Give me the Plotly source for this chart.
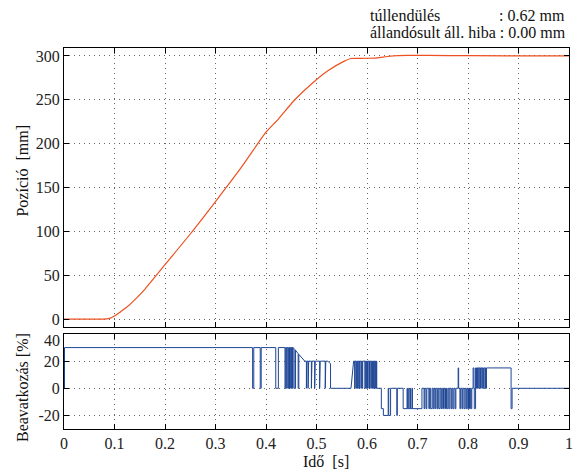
import plotly.graph_objects as go

# ---------------- data ----------------
# position curve (time [s], position [mm])
pos_t = [0.0, 0.05, 0.078, 0.09, 0.10, 0.11, 0.124, 0.14, 0.16, 0.183, 0.20,
         0.25, 0.30, 0.35, 0.40, 0.4245, 0.457, 0.49, 0.5225,
         0.555, 0.568, 0.58, 0.60, 0.62, 0.64, 0.66, 0.68, 0.72, 0.80, 1.0]
pos_v = [0.0, 0.0, 0.0, 0.9, 3.5, 7.5, 13.5, 22.0, 34.0, 50.0, 62.0,
         97.0, 134.0, 172.0, 213.0, 228.0, 250.0, 268.0, 283.0,
         294.0, 297.0, 297.2, 297.3, 297.8, 299.3, 300.4, 300.6, 300.5, 300.2, 300.0]

# control signal events: time, new value (ramps listed in ramp_events)
u_t = [0.001, 0.3735, 0.3758, 0.3886, 0.3905, 0.4193, 0.4245,
       0.4376, 0.4390, 0.4409, 0.4420, 0.4441, 0.4452, 0.4466, 0.4474, 0.4490, 0.4500,
       0.4512, 0.4520, 0.4530, 0.4536,
       0.4572, 0.4572, 0.4585, 0.4637, 0.4637, 0.4650, 0.4768,
       0.4800, 0.4810, 0.4833, 0.4845, 0.4899, 0.4910, 0.4964, 0.4975, 0.5062, 0.5073,
       0.5173, 0.5184, 0.5225, 0.5265, 0.5278,
       0.5683, 0.5735,
       0.5755, 0.5765, 0.5785, 0.5795, 0.5814, 0.5824, 0.5840, 0.5850, 0.5879, 0.5889,
       0.5905, 0.5915, 0.5958, 0.5968, 0.5985, 0.5995, 0.6010, 0.6020, 0.6040, 0.6050,
       0.6075, 0.6085, 0.6100, 0.6110, 0.6130, 0.6140, 0.6154, 0.6164, 0.6175, 0.6185,
       0.6193,
       0.6284, 0.6324, 0.6420, 0.6430, 0.6467, 0.6591, 0.6600, 0.6716,
       0.6794, 0.6800, 0.6827, 0.6833, 0.6859, 0.6866, 0.6892, 0.6900, 0.7088,
       0.7130, 0.7145, 0.7170, 0.7185, 0.7225, 0.7240, 0.7260, 0.7290, 0.7310, 0.7325,
       0.7345, 0.7360, 0.7385, 0.7400, 0.7420, 0.7445, 0.7465, 0.7480, 0.7500, 0.7515,
       0.7540, 0.7555, 0.7575, 0.7600, 0.7620, 0.7640, 0.7665, 0.7680, 0.7700, 0.7720,
       0.7745, 0.7760, 0.7805, 0.7815, 0.7840, 0.7855, 0.7880, 0.7895, 0.7920, 0.7940,
       0.7960, 0.7975, 0.7995, 0.8010, 0.8030, 0.8045, 0.8060, 0.8075,
       0.8101, 0.8118, 0.8125, 0.8150, 0.8165, 0.8172, 0.8190, 0.8197, 0.8215, 0.8222,
       0.8245, 0.8252, 0.8275, 0.8282, 0.8300, 0.8310, 0.8335, 0.8345, 0.8355, 0.8365,
       0.8853, 0.8873, 1.0]
u_v = [30, 0, 30, 0, 30, 0, 30,
       0, 30, 0, 30, 0, 30, 0, 30, 0, 30,
       0, 30, 0, 30,
       28.5, 0, 28, 25.5, 0, 25, 20,
       0, 20, 0, 20, 0, 20, 0, 20, 0, 20,
       0, 20, 20, 18, 0,
       0, 20,
       0, 20, 0, 20, 0, 20, 0, 20, 0, 20,
       0, 20, 0, 20, 0, 20, 0, 20, 0, 20,
       0, 20, 0, 20, 0, 20, 0, 20, 0, 20,
       0,
       -15, -20, 0, -20, 0, -20, 0, -15,
       0, -15, 0, -15, 0, -15, 0, -15, 0,
       -15, 0, -15, 0, -15, 0, -15, 0, -15, 0,
       -15, 0, -15, 0, -15, 0, -15, 0, -15, 0,
       -15, 0, -15, 0, -15, 0, -15, 0, -15, 0,
       -15, 0, 15, 0, -15, 0, -15, 0, -15, 0,
       -15, 0, -15, 0, -15, 0, -15, 0,
       15, 0, -15, 15, 0, 15, 0, 15, 0, 15,
       0, 15, 0, 15, 0, 15, 0, 15, 0, 15,
       -15, 0, 0]
ramp_events = [(0.4572, 28.5), (0.4637, 25.5), (0.4768, 20), (0.5225, 20),
               (0.5265, 18), (0.5683, 0), (0.5735, 20), (1.0, 0)]

# axis ticks
x_ticks = [0, 0.1, 0.2, 0.3, 0.4, 0.5, 0.6, 0.7, 0.8, 0.9, 1]
x_tick_text = ["0", "0.1", "0.2", "0.3", "0.4", "0.5", "0.6", "0.7", "0.8", "0.9", "1"]
pos_ticks = [0, 50, 100, 150, 200, 250, 300]
u_ticks = [-20, 0, 20, 40]

# overshoot / steady state error texts
overshoot_mm = 0.62
steady_err_mm = 0.00

# ---------------- build control vertices ----------------
cx, cy = [0.0], [0.0]
for t, v in zip(u_t, u_v):
    if (t, v) in ramp_events:
        cx.append(t)
        cy.append(v)
    else:
        cx += [t, t]
        cy += [cy[-1], v]

FONT = "Liberation Serif"
GRID = dict(showgrid=True, gridcolor="#666666", griddash="1px,4px", gridwidth=1)
AX = dict(showline=True, linecolor="black", linewidth=1, mirror="ticks",
          ticks="inside", ticklen=5, tickcolor="black", zeroline=False,
          tickfont=dict(family=FONT, size=16, color="#222222"))

fig = go.Figure()
fig.add_trace(go.Scatter(x=pos_t, y=pos_v, mode="lines",
                         line=dict(color="#EE5020", width=1.2, shape="spline", smoothing=0.6),
                         xaxis="x", yaxis="y", showlegend=False, hoverinfo="skip"))
fig.add_trace(go.Scatter(x=cx, y=cy, mode="lines", line=dict(color="#1E4696", width=1),
                         xaxis="x2", yaxis="y2", showlegend=False, hoverinfo="skip"))

fig.update_layout(
    width=577, height=471,
    margin=dict(l=64, r=4, t=48, b=42),
    paper_bgcolor="white", plot_bgcolor="white",
    hovermode=False,
    xaxis=dict(domain=[0, 1], range=[0, 1], anchor="y", tickvals=x_ticks,
               showticklabels=False, **GRID, **AX),
    yaxis=dict(domain=[0.2677, 1], range=[-9, 309], anchor="x",
               tickvals=pos_ticks, **GRID, **AX),
    xaxis2=dict(domain=[0, 1], range=[0, 1], anchor="y2", tickvals=x_ticks,
                ticktext=x_tick_text, **GRID, **AX),
    yaxis2=dict(domain=[0, 0.2493], range=[-30, 40], anchor="x2",
                tickvals=u_ticks, ticktext=[str(v) if v != 40 else "" for v in u_ticks],
                **GRID, **AX),
)

tick_font = dict(family=FONT, size=16, color="#222222")
# top "40" label sits slightly below its tick, as in the reference
fig.add_annotation(text=str(u_ticks[-1]), xref="paper", yref="y2", x=-0.003, y=u_ticks[-1],
                   yshift=-6, showarrow=False, font=tick_font, xanchor="right", yanchor="middle")

ann_font = dict(family=FONT, size=16, color="#111111")
fig.add_annotation(text="Pozíció\u00a0 [mm]", xref="paper", yref="paper", x=-0.0831, y=0.6785,
                   textangle=-90, showarrow=False, font=ann_font, xanchor="center", yanchor="middle")
fig.add_annotation(text="Beavatkozás [%]", xref="paper", yref="paper", x=-0.0831, y=0.1076,
                   textangle=-90, showarrow=False, font=ann_font, xanchor="center", yanchor="middle")
fig.add_annotation(text="Idő\u00a0 [s]", xref="paper", yref="paper", x=0.5187, y=-0.0858,
                   showarrow=False, font=ann_font, xanchor="center", yanchor="middle")
fig.add_annotation(text="túllendülés", xref="paper", yref="paper", x=0.6025, y=1.0866,
                   showarrow=False, font=ann_font, xanchor="left", yanchor="middle")
fig.add_annotation(text=f": {overshoot_mm:.2f} mm", xref="paper", yref="paper", x=0.858, y=1.0866,
                   showarrow=False, font=ann_font, xanchor="left", yanchor="middle")
fig.add_annotation(text=f"állandósult áll. hiba : {steady_err_mm:.2f} mm", xref="paper", yref="paper",
                   x=0.6025, y=1.0412, showarrow=False, font=ann_font, xanchor="left", yanchor="middle")

fig.write_html("out.html", config={"displayModeBar": False, "staticPlot": True},
               post_script="document.body.style.margin='0';document.body.style.padding='0';")
